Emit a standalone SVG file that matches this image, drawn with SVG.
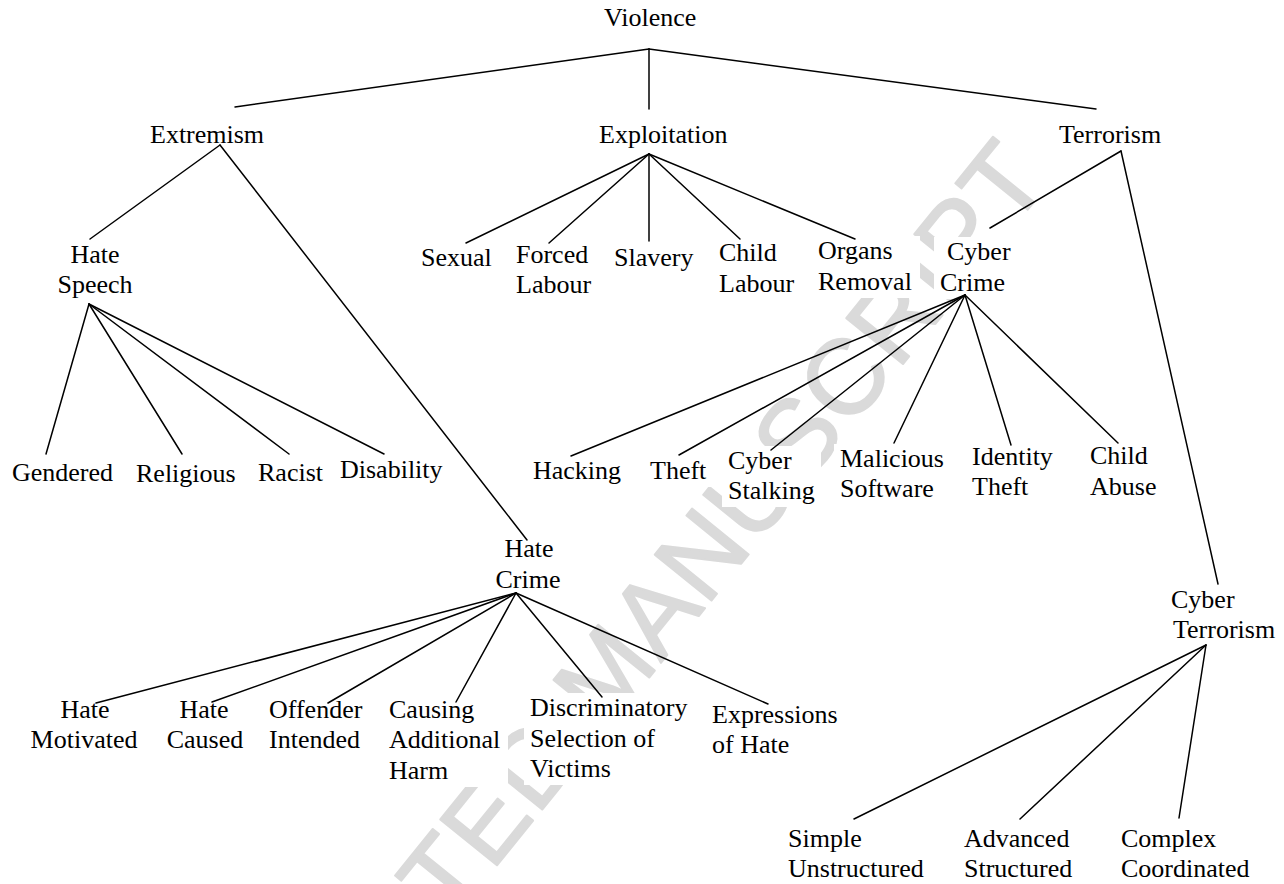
<svg xmlns="http://www.w3.org/2000/svg" width="1284" height="884" viewBox="0 0 1284 884">
<style>
text.t{font-family:"Liberation Serif","Times New Roman",serif;font-size:26px;fill:#000}
text.c{text-anchor:middle}
rect.bg{fill:#fff}
.wm{font-family:"Liberation Sans",Arial,sans-serif;font-size:106px;fill:#dadada;stroke:#dadada;stroke-width:2;stroke-linejoin:round;text-anchor:end;letter-spacing:1px}
#connectors line{stroke:#000;stroke-width:1.5;stroke-linecap:round}
</style>
<rect x="0" y="0" width="1284" height="884" fill="#fff"/>
<text class="wm" transform="translate(1052,180) rotate(-51)">ACCEPTED MANUSCRIPT</text>
<g id="nodes">
<g id="violence"><rect class="bg" x="598" y="2" width="106" height="32"/><text class="t" x="604" y="26">Violence</text></g>
<g id="extremism"><rect class="bg" x="144" y="119" width="130" height="32"/><text class="t" x="150" y="143">Extremism</text></g>
<g id="exploitation"><rect class="bg" x="593" y="119" width="143" height="32"/><text class="t" x="599" y="143">Exploitation</text></g>
<g id="terrorism"><rect class="bg" x="1053" y="119" width="118" height="32"/><text class="t" x="1059" y="143">Terrorism</text></g>
<g id="hate-speech"><rect class="bg" x="51" y="239" width="88" height="62"/><text class="t c" x="95" y="263">Hate</text><text class="t c" x="95" y="293">Speech</text></g>
<g id="sexual"><rect class="bg" x="415" y="243" width="83" height="31"/><text class="t" x="421" y="266">Sexual</text></g>
<g id="forced-labour"><rect class="bg" x="510" y="240" width="88" height="61"/><text class="t" x="516" y="263">Forced</text><text class="t" x="516" y="293">Labour</text></g>
<g id="slavery"><rect class="bg" x="608" y="243" width="93" height="31"/><text class="t" x="614" y="266">Slavery</text></g>
<g id="child-labour"><rect class="bg" x="713" y="238" width="88" height="62"/><text class="t" x="719" y="261">Child</text><text class="t" x="719" y="292">Labour</text></g>
<g id="organs-removal"><rect class="bg" x="812" y="236" width="108" height="62"/><text class="t" x="818" y="259">Organs</text><text class="t" x="818" y="290">Removal</text></g>
<g id="cyber-crime"><rect class="bg" x="934" y="237" width="82" height="62"/><text class="t" x="947" y="260">Cyber</text><text class="t" x="940" y="291">Crime</text></g>
<g id="gendered"><rect class="bg" x="6" y="458" width="114" height="31"/><text class="t" x="12" y="481">Gendered</text></g>
<g id="religious"><rect class="bg" x="130" y="458" width="112" height="31"/><text class="t" x="136" y="482">Religious</text></g>
<g id="racist"><rect class="bg" x="252" y="458" width="78" height="31"/><text class="t" x="258" y="481">Racist</text></g>
<g id="disability"><rect class="bg" x="334" y="455" width="117" height="31"/><text class="t" x="340" y="478">Disability</text></g>
<g id="hacking"><rect class="bg" x="527" y="456" width="101" height="31"/><text class="t" x="533" y="479">Hacking</text></g>
<g id="theft"><rect class="bg" x="644" y="456" width="67" height="31"/><text class="t" x="650" y="479">Theft</text></g>
<g id="cyber-stalking"><rect class="bg" x="722" y="446" width="99" height="61"/><text class="t" x="728" y="469">Cyber</text><text class="t" x="728" y="499">Stalking</text></g>
<g id="malicious-software"><rect class="bg" x="834" y="444" width="118" height="61"/><text class="t" x="840" y="467">Malicious</text><text class="t" x="840" y="497">Software</text></g>
<g id="identity-theft"><rect class="bg" x="966" y="442" width="93" height="61"/><text class="t" x="972" y="465">Identity</text><text class="t" x="972" y="495">Theft</text></g>
<g id="child-abuse"><rect class="bg" x="1084" y="441" width="79" height="62"/><text class="t" x="1090" y="464">Child</text><text class="t" x="1090" y="495">Abuse</text></g>
<g id="hate-crime"><rect class="bg" x="489" y="534" width="78" height="62"/><text class="t c" x="529" y="557">Hate</text><text class="t c" x="528" y="588">Crime</text></g>
<g id="cyber-terrorism"><rect class="bg" x="1165" y="585" width="117" height="61"/><text class="t" x="1171" y="608">Cyber</text><text class="t" x="1173" y="638">Terrorism</text></g>
<g id="hate-motivated"><rect class="bg" x="24" y="695" width="120" height="61"/><text class="t c" x="85" y="718">Hate</text><text class="t c" x="84" y="748">Motivated</text></g>
<g id="hate-caused"><rect class="bg" x="160" y="695" width="90" height="61"/><text class="t c" x="204" y="718">Hate</text><text class="t c" x="205" y="748">Caused</text></g>
<g id="offender-intended"><rect class="bg" x="263" y="695" width="107" height="61"/><text class="t" x="269" y="718">Offender</text><text class="t" x="269" y="748">Intended</text></g>
<g id="causing-additional-harm"><rect class="bg" x="383" y="695" width="125" height="92"/><text class="t" x="389" y="718">Causing</text><text class="t" x="389" y="748">Additional</text><text class="t" x="389" y="779">Harm</text></g>
<g id="discriminatory-selection"><rect class="bg" x="524" y="693" width="170" height="92"/><text class="t" x="530" y="716">Discriminatory</text><text class="t" x="530" y="747">Selection of</text><text class="t" x="530" y="777">Victims</text></g>
<g id="expressions-of-hate"><rect class="bg" x="706" y="700" width="140" height="61"/><text class="t" x="712" y="723">Expressions</text><text class="t" x="712" y="753">of Hate</text></g>
<g id="simple-unstructured"><rect class="bg" x="782" y="824" width="149" height="61"/><text class="t" x="788" y="847">Simple</text><text class="t" x="788" y="877">Unstructured</text></g>
<g id="advanced-structured"><rect class="bg" x="958" y="824" width="121" height="61"/><text class="t" x="964" y="847">Advanced</text><text class="t" x="964" y="877">Structured</text></g>
<g id="complex-coordinated"><rect class="bg" x="1115" y="824" width="143" height="61"/><text class="t" x="1121" y="847">Complex</text><text class="t" x="1121" y="877">Coordinated</text></g>
</g>
<g id="connectors">
<line x1="649" y1="49" x2="235" y2="107"/>
<line x1="649" y1="49" x2="649" y2="109"/>
<line x1="649" y1="49" x2="1096" y2="109"/>
<line x1="220" y1="145" x2="90" y2="239"/>
<line x1="220" y1="145" x2="527" y2="540"/>
<line x1="649" y1="154" x2="466" y2="243"/>
<line x1="649" y1="154" x2="549" y2="243"/>
<line x1="649" y1="154" x2="649" y2="241"/>
<line x1="649" y1="154" x2="740" y2="239"/>
<line x1="649" y1="154" x2="855" y2="239"/>
<line x1="1121" y1="151" x2="990" y2="228"/>
<line x1="1121" y1="151" x2="1218" y2="584"/>
<line x1="89" y1="304" x2="46" y2="454"/>
<line x1="89" y1="304" x2="182" y2="454"/>
<line x1="89" y1="304" x2="289" y2="454"/>
<line x1="89" y1="304" x2="384" y2="454"/>
<line x1="965" y1="295" x2="571" y2="456"/>
<line x1="965" y1="295" x2="679" y2="455"/>
<line x1="965" y1="295" x2="771" y2="450"/>
<line x1="965" y1="295" x2="894" y2="443"/>
<line x1="965" y1="295" x2="1011" y2="445"/>
<line x1="965" y1="295" x2="1118" y2="443"/>
<line x1="516" y1="593" x2="96" y2="703"/>
<line x1="516" y1="593" x2="212" y2="702"/>
<line x1="516" y1="593" x2="328" y2="703"/>
<line x1="516" y1="593" x2="456" y2="702"/>
<line x1="516" y1="593" x2="602" y2="697"/>
<line x1="516" y1="593" x2="768" y2="704"/>
<line x1="1206" y1="645" x2="854" y2="819"/>
<line x1="1206" y1="645" x2="1020" y2="819"/>
<line x1="1206" y1="645" x2="1179" y2="818"/>
</g>
</svg>
